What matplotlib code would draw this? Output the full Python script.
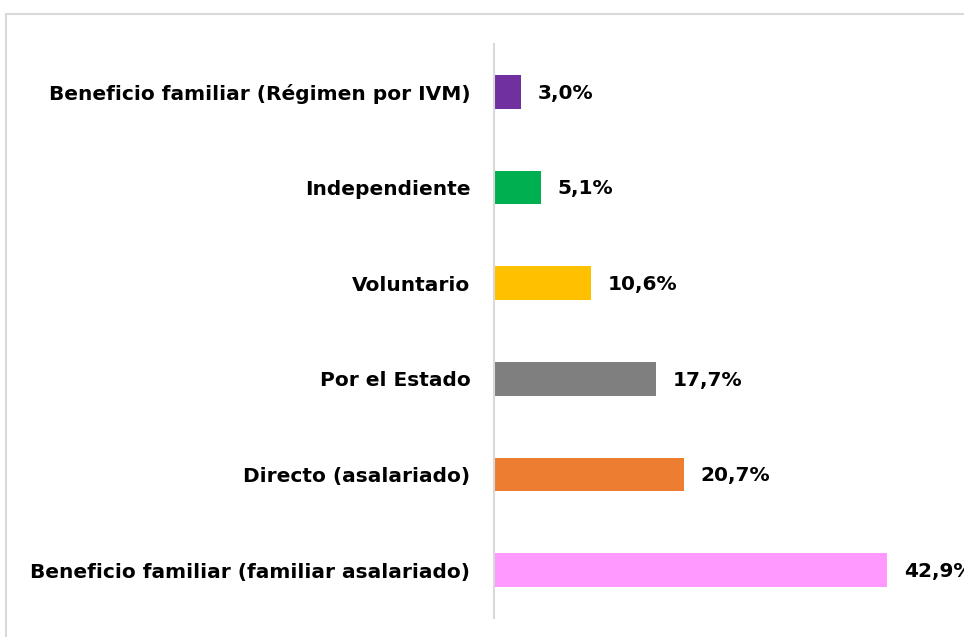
import matplotlib.pyplot as plt
from matplotlib.patches import Rectangle

# data (top to bottom as shown)
categorias = ["Beneficio familiar (Régimen por IVM)", "Independiente", "Voluntario",
              "Por el Estado", "Directo (asalariado)", "Beneficio familiar (familiar asalariado)"]
valores = [3.0, 5.1, 10.6, 17.7, 20.7, 42.9]
colores = ["#7030A0", "#00B050", "#FFC000", "#7F7F7F", "#ED7D31", "#FF99FF"]

fig = plt.figure(figsize=(9.64, 6.37), dpi=100)
ax = fig.add_axes([494 / 964, 19 / 637, 470 / 964, 574 / 637])

pos = list(range(len(categorias)))[::-1]
ax.barh(pos, valores, height=0.35, color=colores)

for p, v in zip(pos, valores):
    ax.annotate(f"{v:.1f}%".replace(".", ","), (v, p), xytext=(12, -1),
                textcoords="offset points", va="center", ha="left",
                fontsize=14.5, fontweight="bold", annotation_clip=False)

ax.set_xlim(0, 51.3)
ax.set_ylim(-0.5, 5.5)
ax.set_yticks(pos)
ax.set_yticklabels(categorias, fontsize=14.5, fontweight="bold")
ax.tick_params(axis="y", length=0, pad=17)
ax.set_xticks([])
for s in ["top", "right", "bottom"]:
    ax.spines[s].set_visible(False)
ax.spines["left"].set_color("#D9D9D9")
ax.spines["left"].set_linewidth(1.5)

# outer chart frame (partly cut off at right/bottom)
fig.patches.append(Rectangle((6 / 964, -0.1), 1.2, (637 - 14) / 637 + 0.1,
                             transform=fig.transFigure, fill=False,
                             edgecolor="#D9D9D9", linewidth=1.5))

fig.savefig("out.png", dpi=100)
